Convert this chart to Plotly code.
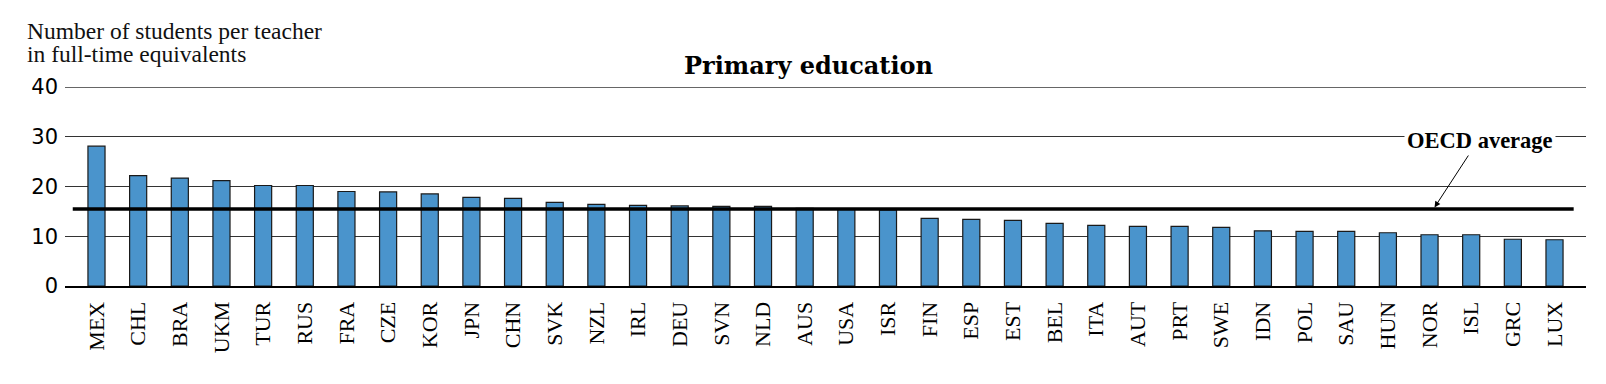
import plotly.graph_objects as go

countries = ["MEX", "CHL", "BRA", "UKM", "TUR", "RUS", "FRA", "CZE", "KOR", "JPN",
             "CHN", "SVK", "NZL", "IRL", "DEU", "SVN", "NLD", "AUS", "USA", "ISR",
             "FIN", "ESP", "EST", "BEL", "ITA", "AUT", "PRT", "SWE", "IDN", "POL",
             "SAU", "HUN", "NOR", "ISL", "GRC", "LUX"]
students_per_teacher = [28.1, 22.2, 21.7, 21.2, 20.2, 20.2, 19.0, 18.9, 18.5, 17.8,
                        17.6, 16.8, 16.4, 16.2, 16.1, 16.0, 16.0, 15.6, 15.5, 15.3,
                        13.6, 13.4, 13.2, 12.6, 12.2, 12.0, 12.0, 11.8, 11.1, 11.0,
                        11.0, 10.7, 10.3, 10.3, 9.4, 9.3]
oecd_average = 15.5
y_ticks = [0, 10, 20, 30, 40]

title_text = "Primary education"
y_title_lines = ["Number of students per teacher", "in full-time equivalents"]
avg_label = "OECD average"

n = len(countries)
fig = go.Figure()
fig.add_trace(go.Bar(
    x=list(range(n)), y=students_per_teacher,
    width=0.41,
    marker=dict(color="#4a94cc", line=dict(color="#1a1a1a", width=1.2)),
    hoverinfo="x+y",
))

fig.update_layout(
    width=1606, height=384,
    margin=dict(l=65, r=20, t=87, b=98),
    paper_bgcolor="white", plot_bgcolor="white",
    showlegend=False,
    xaxis=dict(
        range=[-0.756, n - 1 + 0.756],
        tickmode="array", tickvals=list(range(n)), ticktext=countries,
        tickangle=-90,
        tickfont=dict(family="Liberation Serif", size=22, color="black"),
        showgrid=False, zeroline=False,
        showline=True, linecolor="black", linewidth=2,
        ticks="", ticklabelstandoff=5,
    ),
    yaxis=dict(
        range=[0, 40], tickvals=y_ticks,
        tickfont=dict(family="DejaVu Sans", size=21, color="black"),
        showgrid=True, gridcolor="#333333", gridwidth=1.2,
        zeroline=False, showline=False, ticks="", ticklabelstandoff=6,
    ),
)

# top gridline (at the range edge)
fig.add_shape(type="line", xref="paper", yref="y", x0=0, x1=1,
              y0=y_ticks[-1], y1=y_ticks[-1],
              line=dict(color="#333333", width=1.5), layer="below")

# OECD average line
fig.add_shape(type="line", xref="x", yref="y",
              x0=-0.57, x1=n - 1 + 0.46, y0=oecd_average, y1=oecd_average,
              line=dict(color="black", width=3.5), layer="above")

# Title
fig.add_annotation(text="<b>" + title_text + "</b>", xref="paper", yref="paper",
                   x=0.4885, y=1.11, xanchor="center", yanchor="middle",
                   showarrow=False,
                   font=dict(family="DejaVu Serif", size=24, color="black"))

# Y-axis title (two lines)
fig.add_annotation(text=y_title_lines[0], xref="paper", yref="paper",
                   x=-0.026, y=1.281, xanchor="left", yanchor="middle",
                   showarrow=False,
                   font=dict(family="Liberation Serif", size=23.5, color="#111111"))
fig.add_annotation(text=y_title_lines[1], xref="paper", yref="paper",
                   x=-0.026, y=1.166, xanchor="left", yanchor="middle",
                   showarrow=False,
                   font=dict(family="Liberation Serif", size=23.5, color="#111111"))

# Arrow to OECD average
fig.add_annotation(x=32.12, y=oecd_average + 0.3, xref="x", yref="y",
                   ax=33.0, ay=27.1, axref="x", ayref="y",
                   text="", showarrow=True, arrowhead=2, arrowsize=1.2,
                   arrowwidth=1, arrowcolor="black")
# OECD average label
fig.add_annotation(text="<b>" + avg_label + "</b>", xref="x", yref="y",
                   x=33.2, y=29.3, xanchor="center", yanchor="middle",
                   showarrow=False, bgcolor="white", borderpad=2,
                   font=dict(family="Liberation Serif", size=22.5, color="black"))

fig.write_html("out.html",
               config={"displayModeBar": False},
               post_script="document.body.style.margin='0';document.body.style.overflow='hidden';")
